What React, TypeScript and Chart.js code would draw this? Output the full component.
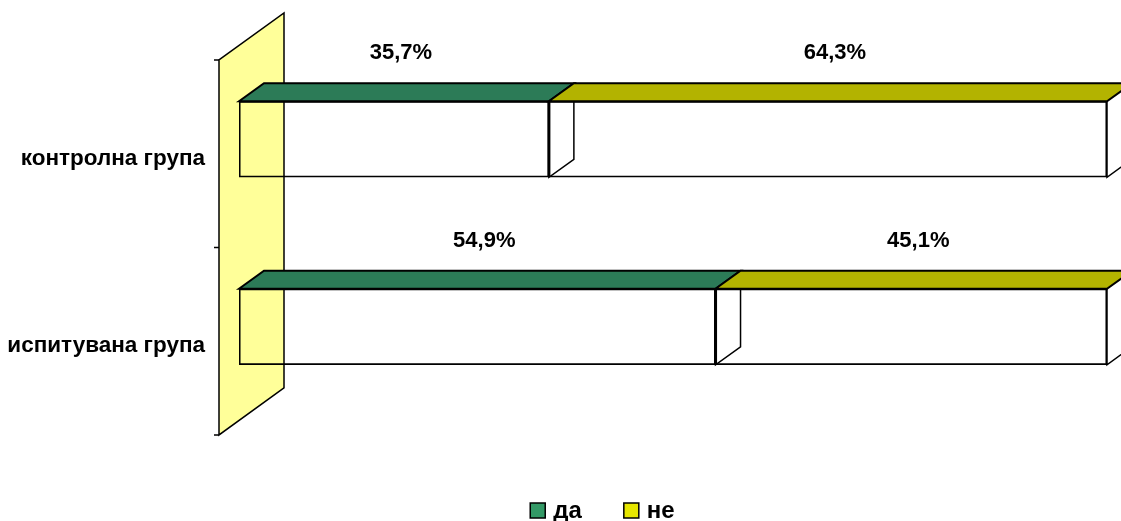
import React, { useEffect, useRef } from 'react';
import { Chart, registerables } from 'chart.js';

Chart.register(...registerables);

const categories = ['контролна група', 'испитувана група'];
const seriesNames = ['да', 'не'];
const daValues = [35.7, 54.9];
const neValues = [64.3, 45.1];

const TOP_COLORS = ['#2C7B57', '#B3B300'];
const LEGEND_COLORS = ['#339966', '#E6E600'];
const WALL_COLOR = '#FFFF99';
const DEPTH_DX = 25;
const DEPTH_DY = 18;
const WALL_FRONT = 20;
const WALL_DX = 65;
const WALL_DY = 47;
const FONT = '"Liberation Sans", Arial, sans-serif';

const fmt = (v: number) => v.toFixed(1).replace('.', ',') + '%';

const excel3d = {
  id: 'excel3d',
  beforeDatasetsDraw(chart: any) {
    const { ctx, chartArea } = chart;
    const xs = chart.scales.x;
    const ys = chart.scales.y;
    const x0 = xs.getPixelForValue(0) - WALL_FRONT;
    const shift = (WALL_FRONT * WALL_DY) / WALL_DX;
    const yTop = chartArea.top + shift;
    const yBot = chartArea.bottom + shift;
    ctx.save();
    ctx.beginPath();
    ctx.moveTo(x0, yTop);
    ctx.lineTo(x0 + WALL_DX, yTop - WALL_DY);
    ctx.lineTo(x0 + WALL_DX, yBot - WALL_DY);
    ctx.lineTo(x0, yBot);
    ctx.closePath();
    ctx.fillStyle = WALL_COLOR;
    ctx.fill();
    ctx.strokeStyle = '#000';
    ctx.lineWidth = 1.5;
    ctx.stroke();
    const n = categories.length;
    ctx.beginPath();
    for (let i = 0; i <= n; i++) {
      const y = yTop + ((yBot - yTop) * i) / n;
      ctx.moveTo(x0 - 5, y);
      ctx.lineTo(x0, y);
    }
    ctx.stroke();
    ctx.fillStyle = '#000';
    ctx.font = 'bold 22.5px ' + FONT;
    ctx.textAlign = 'right';
    ctx.textBaseline = 'middle';
    categories.forEach((c, i) => {
      const y = ys.getPixelForValue(i) + shift + 5;
      ctx.fillText(c, x0 - 14, y);
    });
    ctx.restore();
  },
  afterDatasetsDraw(chart: any) {
    const { ctx } = chart;
    ctx.save();
    const metas = chart.data.datasets.map((_: any, d: number) => chart.getDatasetMeta(d));
    categories.forEach((_, i) => {
      metas.forEach((meta: any, d: number) => {
        const el = meta.data[i];
        const xs = Math.min(el.base, el.x);
        const xe = Math.max(el.base, el.x);
        const yt = el.y - el.height / 2;
        const yb = el.y + el.height / 2;
        // top face
        ctx.beginPath();
        ctx.moveTo(xs, yt);
        ctx.lineTo(xs + DEPTH_DX, yt - DEPTH_DY);
        ctx.lineTo(xe + DEPTH_DX, yt - DEPTH_DY);
        ctx.lineTo(xe, yt);
        ctx.closePath();
        ctx.fillStyle = TOP_COLORS[d];
        ctx.fill();
        ctx.strokeStyle = '#000';
        ctx.lineWidth = 2;
        ctx.stroke();
        // right side face
        ctx.beginPath();
        ctx.moveTo(xe, yt);
        ctx.lineTo(xe, yb);
        ctx.lineTo(xe + DEPTH_DX, yb - DEPTH_DY);
        ctx.lineTo(xe + DEPTH_DX, yt - DEPTH_DY);
        ctx.lineWidth = 1.5;
        ctx.stroke();
        // data label
        const v = chart.data.datasets[d].data[i];
        ctx.fillStyle = '#000';
        ctx.font = 'bold 22px ' + FONT;
        ctx.textAlign = 'center';
        ctx.textBaseline = 'middle';
        ctx.fillText(fmt(v), (xs + xe) / 2 + 7, yt - 48);
      });
    });
    ctx.restore();
  },
  afterDraw(chart: any) {
    const { ctx } = chart;
    ctx.save();
    ctx.font = 'bold 24px ' + FONT;
    ctx.textBaseline = 'middle';
    ctx.textAlign = 'left';
    const yc = chart.height - 10;
    let x = chart.width * 0.473;
    seriesNames.forEach((name, d) => {
      ctx.fillStyle = LEGEND_COLORS[d];
      ctx.fillRect(x, yc - 8, 15, 15);
      ctx.strokeStyle = '#000';
      ctx.lineWidth = 1.5;
      ctx.strokeRect(x, yc - 8, 15, 15);
      ctx.fillStyle = '#000';
      ctx.fillText(name, x + 23, yc);
      x += 23 + ctx.measureText(name).width + 42;
    });
    ctx.restore();
  },
};

export default function App() {
  const ref = useRef<HTMLCanvasElement | null>(null);
  useEffect(() => {
    if (!ref.current) return;
    const chart = new Chart(ref.current, {
      type: 'bar',
      data: {
        labels: categories,
        datasets: [
          {
            label: seriesNames[0],
            data: daValues,
            backgroundColor: 'rgba(0,0,0,0)',
            borderColor: '#000',
            borderWidth: 1.2,
            borderSkipped: false,
            barThickness: 76,
          },
          {
            label: seriesNames[1],
            data: neValues,
            backgroundColor: 'rgba(0,0,0,0)',
            borderColor: '#000',
            borderWidth: 1.2,
            borderSkipped: false,
            barThickness: 76,
          },
        ],
      },
      options: {
        indexAxis: 'y',
        responsive: false,
        maintainAspectRatio: false,
        animation: false,
        layout: { padding: { left: 239, right: 14, top: 45.5, bottom: 100.5 } },
        scales: {
          x: { stacked: true, min: 0, max: 100, display: false },
          y: { stacked: true, display: false, offset: true },
        },
        plugins: {
          legend: { display: false },
          tooltip: { enabled: false },
        },
      } as any,
      plugins: [excel3d],
    });
    return () => chart.destroy();
  }, []);
  return (
    <div style={{ position: 'fixed', left: 0, top: 0, width: 1121, height: 521, background: '#fff' }}>
      <canvas ref={ref} width={1121} height={521} style={{ width: 1121, height: 521, display: 'block' }} />
    </div>
  );
}
